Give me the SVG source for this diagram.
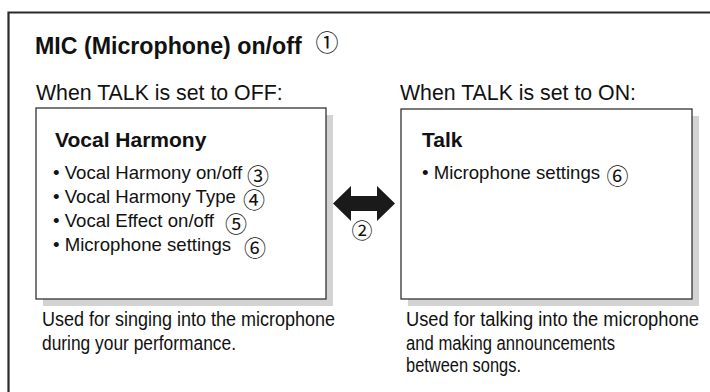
<svg xmlns="http://www.w3.org/2000/svg" width="710" height="392" viewBox="0 0 710 392">
<style>
  .t { font-family: "Liberation Sans", Arial, sans-serif; fill: #111; }
  .title { font-size: 23.2px; font-weight: bold; }
  .sub { font-size: 21.3px; }
  .head { font-size: 21px; font-weight: bold; }
  .item { font-size: 18.6px; }
  .cap { font-size: 19.5px; }
  .num { font-family: "Noto Sans CJK JP", "DejaVu Sans", sans-serif; fill: #111; text-anchor: middle; }
  .box { fill: #fff; stroke: #333; stroke-width: 1.3; }
  .shadow { fill: #d3d3d3; }
  .frame { fill: none; stroke: #2a2a2a; stroke-width: 2.2; }
</style>
<rect x="0" y="0" width="710" height="392" fill="#fff"/>
<g id="frame">
  <path class="frame" d="M8.5,392 L8.5,12.5 L710,12.5"/>
</g>
<g id="title">
  <text class="t title" x="35" y="53.5">MIC (Microphone) on/off</text>
  <text class="num" x="327" y="50.5" font-size="23">①</text>
</g>
<g id="node-vocal">
  <text class="t sub" x="36" y="100">When TALK is set to OFF:</text>
  <rect class="shadow" x="43" y="115" width="290" height="191"/>
  <rect class="box" x="36" y="108" width="290" height="191"/>
  <text class="t head" x="55" y="147">Vocal Harmony</text>
  <text class="t item" x="53" y="178.5">• Vocal Harmony on/off</text>
  <text class="t item" x="53" y="202.5">• Vocal Harmony Type</text>
  <text class="t item" x="53" y="226.5">• Vocal Effect on/off</text>
  <text class="t item" x="53" y="250.5">• Microphone settings</text>
  <text class="num" x="258" y="183.5" font-size="22">③</text>
  <text class="num" x="254" y="207.5" font-size="22">④</text>
  <text class="num" x="236" y="231.5" font-size="22">⑤</text>
  <text class="num" x="255" y="255.5" font-size="22">⑥</text>
  <text class="t cap" x="42" y="326" textLength="293" lengthAdjust="spacingAndGlyphs">Used for singing into the microphone</text>
  <text class="t cap" x="42" y="349.5" textLength="194" lengthAdjust="spacingAndGlyphs">during your performance.</text>
</g>
<g id="node-talk">
  <text class="t sub" x="400" y="99.5">When TALK is set to ON:</text>
  <rect class="shadow" x="408" y="116" width="291" height="190"/>
  <rect class="box" x="401" y="109" width="291" height="190"/>
  <text class="t head" x="422" y="147">Talk</text>
  <text class="t item" x="422" y="178.5">• Microphone settings</text>
  <text class="num" x="617.5" y="183.5" font-size="22">⑥</text>
  <text class="t cap" x="406" y="326" textLength="293" lengthAdjust="spacingAndGlyphs">Used for talking into the microphone</text>
  <text class="t cap" x="406" y="349.5" textLength="209" lengthAdjust="spacingAndGlyphs">and making announcements</text>
  <text class="t cap" x="406" y="372" textLength="115" lengthAdjust="spacingAndGlyphs">between songs.</text>
</g>
<g id="connectors">
  <path id="arrow-toggle" fill="#1a1a1a" d="M333,203.5 L351,186 L351,196 L377,196 L377,186 L395,203.5 L377,221 L377,211 L351,211 L351,221 Z"/>
  <text class="num" x="362" y="238" font-size="21">②</text>
</g>
</svg>
